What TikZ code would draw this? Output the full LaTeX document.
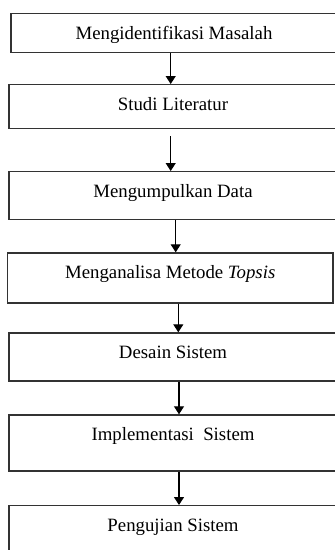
\documentclass[tikz,border=0pt]{standalone}
\usepackage{fontspec}
\setmainfont{Liberation Serif}
\usetikzlibrary{arrows.meta}
\begin{document}
\begin{tikzpicture}[x=1pt, y=-1pt,
        box/.style={draw=black!80, line width=1.3pt, inner xsep=0pt, inner ysep=0pt,
            anchor=north, text height=26pt, text depth=#1,
            font=\fontsize{18.8}{20}\selectfont},
        arr/.style={line width=1.1pt, -{Triangle[width=10pt, length=8pt]}}]
        \clip (0,0) rectangle (335,550);
        \fill[white] (0,0) rectangle (335,550);
        % the steps, top to bottom
        \node[box=13pt, minimum width=326pt] (masalah) at (174, 12.7) {Mengidentifikasi Masalah};
        \node[box=18pt, minimum width=328pt] (studi) at (173, 84) {Studi Literatur};
        \node[box=22pt, minimum width=328pt] (data) at (173, 171) {Mengumpulkan Data};
        \node[box=24pt, minimum width=325.7pt] (topsis) at (170.2, 252.3) {Menganalisa Metode \textit{Topsis}};
        \node[box=22pt, minimum width=328pt] (desain) at (173, 332.3) {Desain Sistem};
        \node[box=30pt, minimum width=328pt] (implementasi) at (173, 414.3) {Implementasi\ \ Sistem};
        \node[box=34pt, minimum width=328pt] (pengujian) at (173, 505) {Pengujian Sistem};
        % arrows between the steps
        \draw[arr] ([xshift=-3.3pt]masalah.south) -- ([xshift=-3.3pt]masalah.south |- studi.north);
        \draw[arr] ([xshift=-2.3pt, yshift=-7pt]studi.south) -- ([xshift=-2.3pt]studi.south |- data.north);
        \draw[arr] ([xshift=2.7pt]data.south) -- ([xshift=2.7pt]data.south |- topsis.north);
        \draw[arr] ([xshift=5.3pt]desain.north |- topsis.south) -- ([xshift=5.3pt]desain.north);
        \draw[arr] ([xshift=6pt]desain.south) -- ([xshift=6pt]desain.south |- implementasi.north);
        \draw[arr] ([xshift=6pt]implementasi.south) -- ([xshift=6pt]implementasi.south |- pengujian.north);
    \end{tikzpicture}
\end{document}
